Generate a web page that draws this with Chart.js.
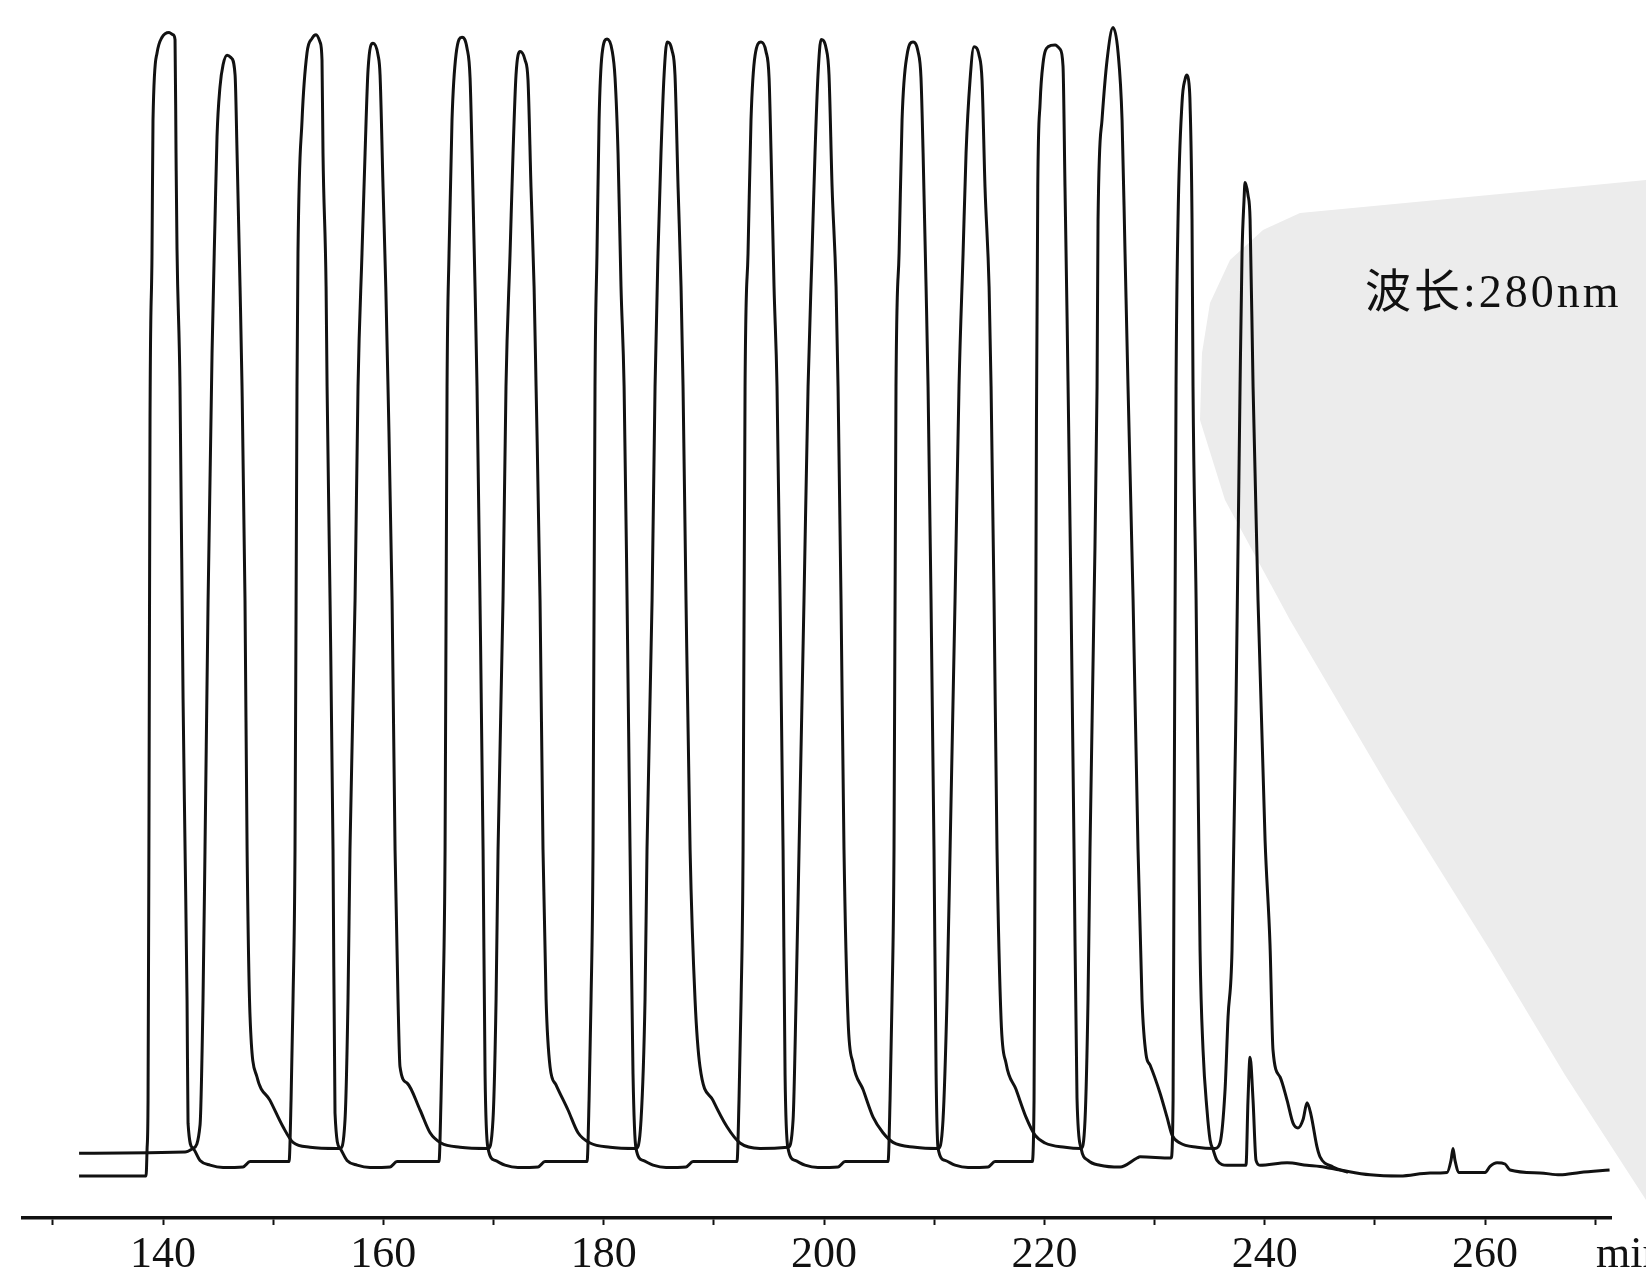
<!DOCTYPE html>
<html>
<head>
<meta charset="utf-8">
<script src="https://cdn.jsdelivr.net/npm/chart.js@4.4.0/dist/chart.umd.min.js"></script>
<style>
  html, body { margin: 0; padding: 0; background: #fff; overflow: hidden; }
  #wrap { position: relative; width: 1646px; height: 1276px; }
  #seal {
    position: absolute; left: 0; top: 0; width: 1646px; height: 1276px; background: #ececec;
    clip-path: polygon(1300px 213px, 1263px 230px, 1230px 260px, 1210px 303px, 1202px 353px, 1200px 420px,
      1225px 500px, 1290px 620px, 1390px 790px, 1490px 950px, 1565px 1075px, 1646px 1200px, 1646px 180px);
  }
  canvas { position: absolute; left: 0; top: 0; }
</style>
</head>
<body>
<div id="wrap">
  <div id="seal"></div>
  <canvas id="myChart" width="1646" height="1276"></canvas>
</div>
<script>
// run 1 (the trace that starts on the lower baseline), time in min
const runATime = [
  132.38, 138.46, 138.55, 138.64, 138.73, 138.82, 139.00, 139.09, 139.46, 139.91, 140.55, 140.91, 141.09, 141.18, 141.27, 141.54, 141.82, 142.00, 142.18, 142.27, 142.72,
  143.36, 144.27, 145.45, 147.26, 147.90, 151.44,
  151.62, 151.80, 151.98, 152.16, 152.25, 152.62, 153.07, 153.53, 153.89, 154.25, 154.43, 154.52, 154.80, 154.89, 155.16, 155.43, 155.61, 156.07,
  156.70, 157.61, 158.79, 160.61, 161.24, 165.05,
  165.23, 165.42, 165.60, 165.78, 165.96, 166.23, 166.60, 167.14, 167.59, 167.87, 168.05, 168.32, 168.50, 168.77, 169.05, 169.23, 169.50,
  170.14, 171.04, 172.22, 174.04, 174.67, 178.49,
  178.67, 178.85, 179.03, 179.21, 179.39, 179.58, 179.85, 180.30, 180.76, 181.03, 181.30, 181.57, 181.85, 182.12, 182.39, 182.66, 182.93,
  183.57, 184.48, 185.66, 187.47, 188.11, 192.10,
  192.28, 192.47, 192.65, 192.83, 193.10, 193.37, 193.74, 194.28, 194.73, 195.01, 195.19, 195.46, 195.73, 196.01, 196.28, 196.46, 196.73,
  197.37, 198.27, 199.45, 201.27, 201.91, 205.81,
  205.99, 206.17, 206.35, 206.53, 206.81, 207.08, 207.53, 208.08, 208.53, 208.80, 208.99, 209.26, 209.44, 209.71, 209.98, 210.17, 210.35,
  210.98, 211.89, 213.07, 214.89, 215.52, 218.88,
  219.06, 219.15, 219.28, 219.40, 219.61, 219.88, 220.33, 220.97, 221.42, 221.69, 221.87, 222.06, 222.15, 222.42, 222.69, 222.96, 223.33,
  223.96, 225.05, 226.87, 228.41, 228.68, 231.50,
  231.68, 231.77, 231.95, 232.13, 232.49, 232.77, 232.95, 233.13, 233.22, 233.40, 233.49, 233.77, 234.13, 234.40, 234.76, 235.04, 235.31,
  235.67, 236.58, 238.30, 238.48, 238.67, 238.94, 239.21, 239.57, 242.03, 243.84, 245.02, 246.84, 249.56, 252.28, 255.01,
  256.55, 256.91, 257.09, 257.27, 257.64, 260.00, 260.45, 261.09, 261.81, 262.27, 264.99, 266.81, 268.62, 271.30
];
const runASignal = [
  3.5, 3.5, 5.7, 9.8, 34.8, 66.5, 80.4, 91.5, 97.1, 98.4, 98.8, 98.6, 98.2, 88.75, 80.7, 69.3, 43.2, 30.7, 18.2, 7.9, 5.8,
  4.8, 4.4, 4.2, 4.25, 4.7, 4.7,
  9.8, 18.2, 30.7, 69.3, 80.4, 91.5, 97.1, 98.3, 98.6, 98.0, 96.5, 88.75, 77.6, 69.3, 51.5, 30.7, 8.75, 5.8,
  4.8, 4.4, 4.2, 4.25, 4.7, 4.7,
  9.8, 18.2, 30.7, 69.3, 80.4, 91.5, 97.0, 98.4, 97.5, 95.0, 88.75, 77.6, 69.3, 51.5, 30.7, 12.0, 5.8,
  4.8, 4.4, 4.2, 4.25, 4.7, 4.7,
  9.8, 18.2, 30.7, 69.3, 80.4, 91.5, 97.0, 98.25, 97.3, 95.0, 88.75, 77.6, 69.3, 51.5, 30.7, 12.0, 5.8,
  4.8, 4.4, 4.2, 4.25, 4.7, 4.7,
  9.8, 18.2, 30.7, 69.3, 80.4, 91.5, 96.9, 98.0, 97.2, 95.0, 88.75, 77.6, 69.3, 51.5, 30.7, 12.0, 5.8,
  4.8, 4.4, 4.2, 4.25, 4.7, 4.7,
  9.8, 18.2, 30.7, 69.3, 80.4, 91.5, 96.9, 98.0, 97.2, 95.0, 88.75, 77.6, 69.3, 51.5, 30.7, 12.0, 5.8,
  4.8, 4.4, 4.2, 4.25, 4.7, 4.7,
  9.8, 30.7, 66.5, 85.9, 92.9, 96.25, 97.6, 97.75, 97.4, 96.0, 85.9, 75.0, 69.3, 51.5, 30.7, 10.0, 5.8,
  4.8, 4.4, 4.25, 5.0, 5.1, 5.0,
  9.8, 30.7, 69.3, 83.2, 92.9, 94.9, 95.25, 94.5, 92.9, 83.2, 69.3, 51.5, 22.3, 14.0, 9.0, 6.5, 5.7,
  4.8, 4.4, 4.4, 9.8, 13.4, 9.8, 4.8, 4.4, 4.6, 4.4, 4.3, 4.0, 3.6, 3.5, 3.75,
  3.8, 4.8, 5.8, 4.8, 3.8, 3.8, 4.3, 4.6, 4.5, 4.0, 3.75, 3.6, 3.8, 4.0
];

// run 2 (the trace that starts on the upper baseline, tailing peaks)
const runBTime = [
  132.38, 142.00, 142.72,
  143.36, 143.63, 143.81, 144.09, 144.45, 144.72, 144.90, 145.17, 145.45, 145.81, 146.17, 146.54, 146.72, 146.99, 147.17, 147.44, 147.63, 147.90, 148.53, 149.71, 150.89, 151.80, 153.34, 155.79, 156.07,
  156.52, 156.79, 156.97, 157.43, 157.70, 158.06, 158.34, 158.61, 159.06, 159.52, 159.70, 159.97, 160.22, 160.42, 160.79, 161.06, 161.33, 161.51, 162.15, 163.33, 164.24, 165.23, 166.96, 169.50,
  169.95, 170.23, 170.41, 170.86, 171.13, 171.50, 171.77, 172.04, 172.41, 172.86, 173.13, 173.40, 173.68, 173.86, 174.22, 174.49, 174.77, 175.13, 175.67, 176.76, 177.67, 178.76, 180.57, 182.93,
  183.39, 183.75, 183.93, 184.39, 184.66, 184.93, 185.20, 185.48, 185.75, 186.20, 186.47, 186.75, 187.02, 187.20, 187.47, 187.84, 188.29, 188.74, 189.92, 191.19, 192.37, 194.19, 196.73,
  197.19, 197.46, 197.73, 198.18, 198.55, 198.91, 199.18, 199.45, 199.73, 200.18, 200.45, 200.73, 201.09, 201.27, 201.54, 201.81, 202.18, 202.63, 203.54, 204.45, 205.35, 206.26, 208.26, 210.35,
  210.80, 211.16, 211.44, 211.89, 212.25, 212.62, 212.89, 213.25, 213.61, 214.07, 214.34, 214.61, 214.98, 215.16, 215.43, 215.70, 216.07, 216.52, 217.43, 218.33, 219.15, 220.06, 221.87, 223.33,
  223.69, 223.96, 224.14, 224.51, 224.78, 224.87, 225.23, 225.69, 226.23, 226.69, 227.05, 227.32, 227.59, 228.05, 228.50, 228.86, 229.23, 229.59, 230.50, 231.13, 231.59, 232.31, 233.86, 235.49,
  235.94, 236.40, 236.67, 237.03, 237.40, 237.76, 237.94, 238.12, 238.21, 238.48, 238.67, 238.94, 239.39, 240.03, 240.48, 240.75, 241.39, 242.03, 242.57, 243.02, 243.48, 243.84, 244.20, 244.75, 245.02, 246.20, 247.56
];
const runBSignal = [
  5.4, 5.5, 5.8,
  7.75, 18.2, 30.7, 51.5, 72.1, 83.2, 90.1, 94.25, 96.1, 96.9, 96.7, 95.25, 88.75, 77.6, 69.3, 51.5, 30.7, 16.75, 11.75, 9.8, 7.6, 6.3, 5.9, 5.8, 5.8,
  8.2, 18.2, 30.7, 51.5, 69.3, 80.4, 88.75, 95.7, 97.9, 96.9, 95.25, 85.9, 77.6, 69.3, 51.5, 30.7, 18.2, 12.6, 11.25, 9.0, 7.1, 6.25, 5.9, 5.8,
  8.2, 18.2, 30.7, 51.5, 69.3, 80.4, 88.75, 95.25, 97.2, 96.5, 94.8, 85.9, 77.6, 69.3, 51.5, 30.7, 18.2, 12.6, 11.1, 9.0, 7.1, 6.25, 5.9, 5.8,
  8.2, 18.2, 30.7, 51.5, 69.3, 80.4, 88.75, 95.25, 98.0, 97.3, 95.25, 85.9, 77.6, 69.3, 51.5, 30.7, 18.2, 12.6, 9.8, 7.6, 6.25, 5.8, 5.9,
  8.2, 18.2, 30.7, 51.5, 69.3, 80.4, 88.75, 95.25, 98.2, 97.5, 95.25, 85.9, 77.6, 69.3, 51.5, 30.7, 16.5, 12.9, 10.7, 8.4, 7.1, 6.3, 5.9, 5.8,
  8.2, 18.2, 30.7, 51.5, 69.3, 80.4, 88.75, 94.8, 97.6, 96.9, 94.8, 85.9, 77.6, 69.3, 51.5, 30.7, 16.5, 12.9, 10.7, 8.4, 6.9, 6.25, 5.9, 5.8,
  8.2, 18.2, 30.7, 51.5, 69.3, 83.2, 91.5, 96.5, 99.2, 97.1, 91.5, 80.4, 69.3, 51.5, 30.7, 18.2, 13.6, 12.75, 10.4, 8.4, 6.9, 6.25, 5.9, 5.8,
  6.25, 10.7, 16.75, 22.3, 43.2, 69.3, 80.4, 84.8, 86.3, 85.25, 83.2, 69.3, 51.5, 31.5, 22.75, 14.0, 11.75, 9.8, 7.9, 7.5, 8.2, 9.6, 8.6, 5.9, 5.1, 4.25, 3.8
];

// axis
const xMin = 127.29;
const xMax = 271.43;
const xTickValues = [130, 140, 150, 160, 170, 180, 190, 200, 210, 220, 230, 240, 250, 260, 270];
const xTickLabels = ['', '140', '', '160', '', '180', '', '200', '', '220', '', '240', '', '260', ''];
const unitLabel = 'min';
const unitAt = [270.07, -3.1];
const waveNote = '波长:280nm';
const noteAt = [249.1, 76.9];

const toPoints = (ts, vs) => ts.map((t, i) => ({ x: t, y: vs[i] }));

const labelsPlugin = {
  id: 'labelsPlugin',
  afterDraw(chart) {
    const ctx = chart.ctx;
    const x = chart.scales.x;
    const y = chart.scales.y;
    ctx.save();
    ctx.fillStyle = '#111';
    ctx.textAlign = 'left';
    ctx.textBaseline = 'middle';
    ctx.font = '44px "Liberation Serif", "Noto Sans CJK SC"';
    ctx.fillText(unitLabel, x.getPixelForValue(unitAt[0]), y.getPixelForValue(unitAt[1]));
    ctx.font = '46px "Liberation Serif", "Noto Sans CJK SC"';
    ctx.letterSpacing = '3px';
    ctx.fillText(waveNote, x.getPixelForValue(noteAt[0]), y.getPixelForValue(noteAt[1]));
    ctx.restore();
  }
};

const ctx = document.getElementById('myChart').getContext('2d');

const data = {
  datasets: [
    {
      data: toPoints(runATime, runASignal),
      borderColor: '#111',
      borderWidth: 3,
      pointRadius: 0,
      cubicInterpolationMode: 'monotone',
      clip: false
    },
    {
      data: toPoints(runBTime, runBSignal),
      borderColor: '#111',
      borderWidth: 3,
      pointRadius: 0,
      cubicInterpolationMode: 'monotone',
      clip: false
    }
  ]
};

const config = {
  type: 'line',
  data: data,
  options: {
    responsive: false,
    animation: false,
    layout: { padding: { top: 18, left: 23, right: 35, bottom: -9 } },
    plugins: {
      legend: { display: false },
      tooltip: { enabled: false }
    },
    scales: {
      x: {
        type: 'linear',
        min: xMin,
        max: xMax,
        afterBuildTicks: (scale) => {
          scale.ticks = xTickValues.map(v => ({ value: v }));
        },
        border: { display: true, color: '#111', width: 3.5 },
        grid: { drawOnChartArea: false, drawTicks: true, tickLength: 7, tickWidth: 2, tickColor: '#111' },
        ticks: {
          autoSkip: false,
          maxRotation: 0,
          padding: 3.6,
          color: '#111',
          font: { family: '"Liberation Serif", serif', size: 44 },
          callback: (value, i) => xTickLabels[i]
        }
      },
      y: {
        display: false,
        min: 0,
        max: 100
      }
    }
  },
  plugins: [labelsPlugin]
};

const myChart = new Chart(ctx, config);
</script>
</body>
</html>
